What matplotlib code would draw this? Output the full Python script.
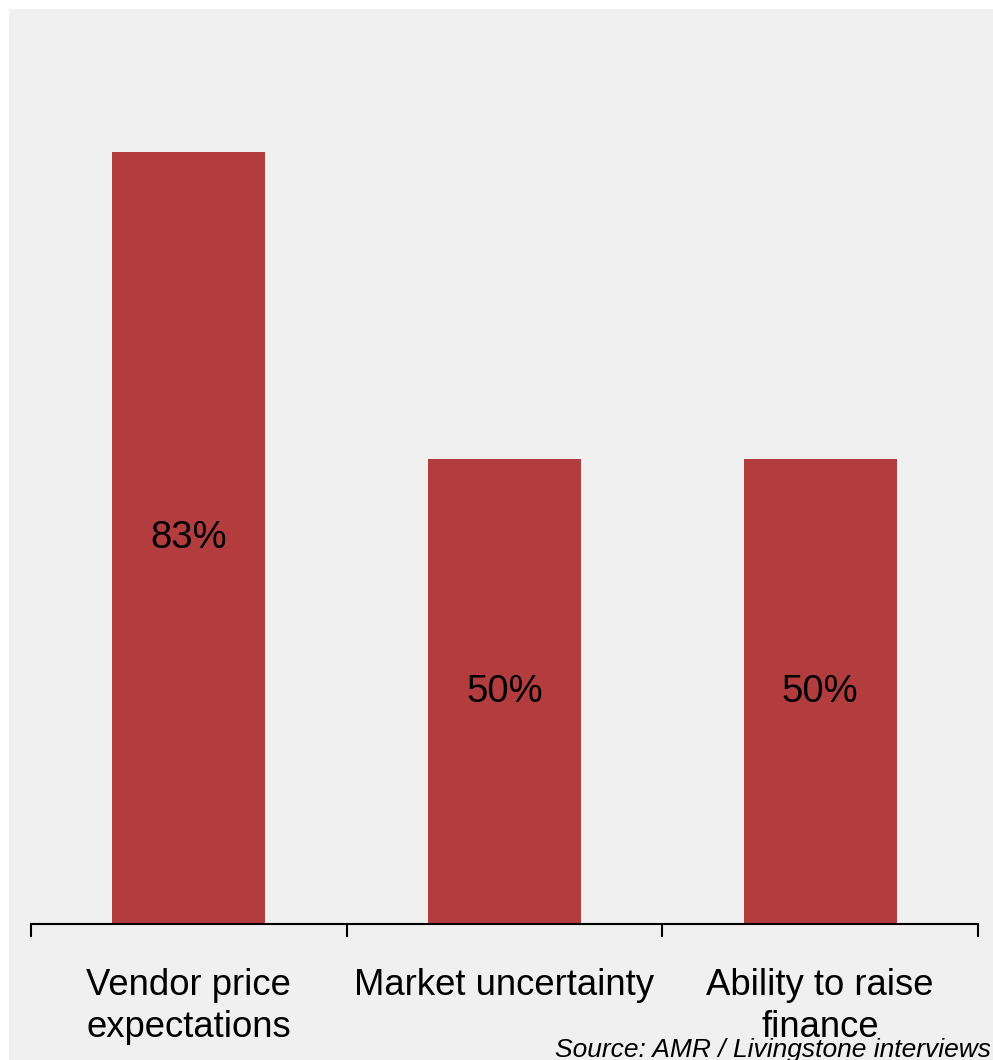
import matplotlib.pyplot as plt
from matplotlib.patches import Rectangle

# Share of interviewees citing each barrier
categories = ["Vendor price\nexpectations", "Market uncertainty", "Ability to raise\nfinance"]
shares = [83, 50, 50]
value_labels = ["83%", "50%", "50%"]
source_note = "Source: AMR / Livingstone interviews"

bar_color = "#b33c3e"
panel_color = "#f0f0f0"

plt.rcParams["font.family"] = ["Liberation Sans", "DejaVu Sans"]

W, H = 993, 1060
fig = plt.figure(figsize=(W / 100, H / 100), dpi=100, facecolor="white")

# grey panel behind everything, with a thin white strip on the top and left
fig.patches.append(Rectangle((9 / W, 0), 1 - 9 / W, 1 - 9 / H,
                             transform=fig.transFigure, facecolor=panel_color,
                             edgecolor="none", zorder=-5))

ax = fig.add_axes([31 / W, 1 - 924 / H, (978 - 31) / W, (924 - 9) / H])
ax.set_facecolor("none")

x = list(range(len(categories)))
bars = ax.bar(x, shares, width=0.485, color=bar_color, zorder=2)

for rect, lab in zip(bars, value_labels):
    ax.text(rect.get_x() + rect.get_width() / 2, rect.get_height() / 2, lab,
            ha="center", va="center", fontsize=27.5, color="black", zorder=3)

ax.set_xlim(-0.5, 2.5)
ax.set_ylim(0, 98.4)

for side in ["top", "right", "left"]:
    ax.spines[side].set_visible(False)
ax.spines["bottom"].set_linewidth(1.5)
ax.spines["bottom"].set_color("black")

ax.set_yticks([])
ax.set_xticks(x)
ax.set_xticklabels(categories, fontsize=26.3, linespacing=1.28)
ax.set_xticks([-0.5, 0.5, 1.5, 2.5], minor=True)
ax.tick_params(axis="x", which="major", length=0, pad=31.5)
ax.tick_params(axis="x", which="minor", length=9.5, width=1.5, color="black")

fig.text(0.998, 3 / H, source_note, ha="right", va="baseline",
         fontsize=19, style="italic", color="black")

fig.savefig("out.png", dpi=100, facecolor="white")
